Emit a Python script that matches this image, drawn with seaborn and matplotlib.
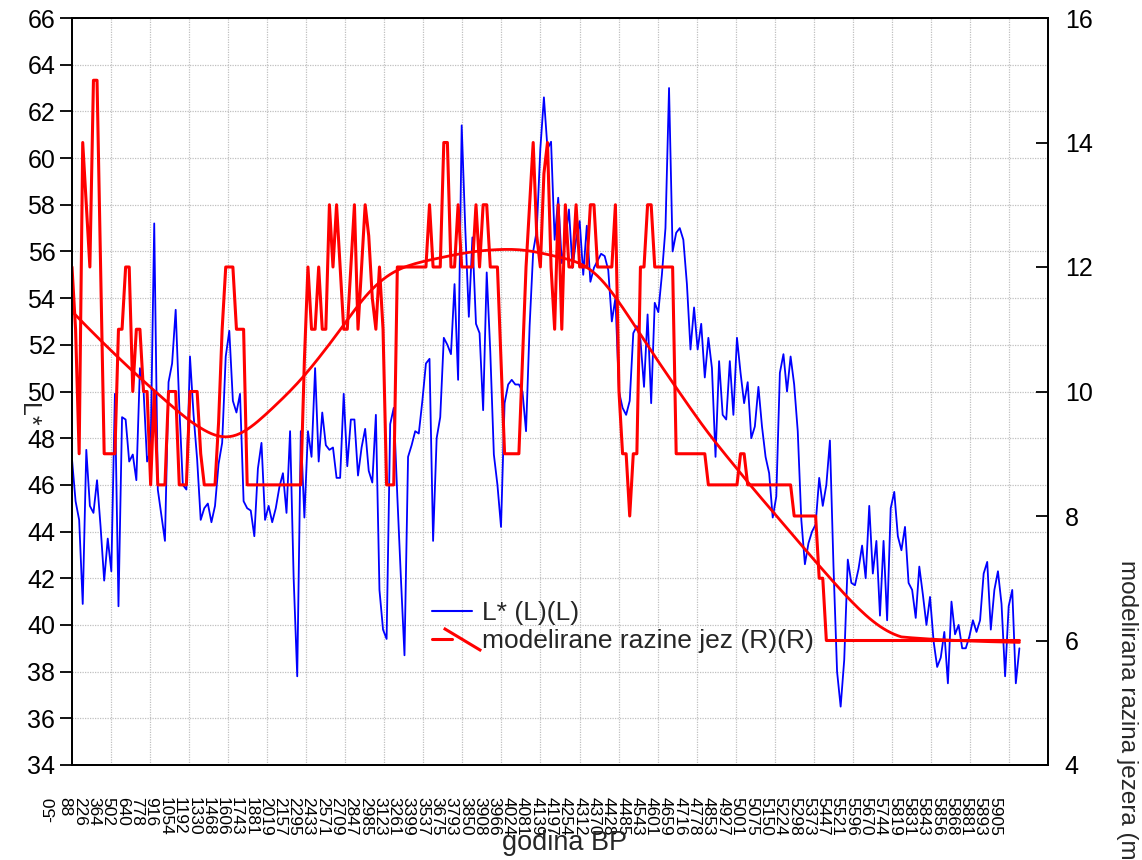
import numpy as np
import matplotlib
matplotlib.use("Agg")
import matplotlib.pyplot as plt
import matplotlib.transforms as mtransforms
from matplotlib.lines import Line2D
from matplotlib.path import Path
from matplotlib.legend_handler import HandlerTuple
import seaborn as sns

sns.set_theme(style="white")
plt.rcParams["font.family"] = ["Liberation Sans", "DejaVu Sans"]

# Age (years BP) shown for every fourth sample
age_labels = [
    "-50", "88", "226", "364", "502", "640", "778", "916", "1054", "1192",
    "1330", "1468", "1606", "1743", "1881", "2019", "2157", "2295", "2433", "2571",
    "2709", "2847", "2985", "3123", "3261", "3399", "3537", "3675", "3793", "3850",
    "3908", "3966", "4024", "4081", "4139", "4197", "4254", "4312", "4370", "4428",
    "4485", "4543", "4601", "4659", "4716", "4778", "4853", "4927", "5001", "5075",
    "5150", "5224", "5298", "5373", "5447", "5521", "5596", "5670", "5744", "5819",
    "5831", "5843", "5856", "5868", "5881", "5893", "5905",
]

# Sediment lightness L* per sample (left axis)
lightness = [
    47.1, 45.3, 44.5, 40.9, 47.5, 45.1, 44.8, 46.2, 44.2, 41.9,
    43.7, 42.3, 49.9, 40.8, 48.9, 48.8, 47.0, 47.3, 46.2, 51.0,
    50.1, 47.0, 47.5, 57.2, 45.8, 44.7, 43.6, 50.4, 51.2, 53.5,
    49.4, 46.0, 45.8, 51.5, 49.0, 47.1, 44.5, 45.0, 45.2, 44.4,
    45.1, 46.9, 47.8, 51.5, 52.6, 49.6, 49.1, 49.9, 45.3, 45.0,
    44.9, 43.8, 46.7, 47.8, 44.5, 45.1, 44.4, 45.0, 45.9, 46.5,
    44.8, 48.3, 42.0, 37.8, 48.3, 44.6, 48.3, 47.2, 51.0, 47.0,
    49.1, 47.7, 47.5, 47.6, 46.3, 46.3, 49.9, 46.8, 48.8, 48.8,
    46.4, 47.6, 48.4, 46.6, 46.1, 49.0, 41.5, 39.8, 39.4, 48.6,
    49.3, 45.5, 42.0, 38.7, 47.2, 47.7, 48.3, 48.2, 49.6, 51.2,
    51.4, 43.6, 48.0, 48.9, 52.3, 52.0, 51.6, 54.6, 50.5, 61.4,
    57.0, 53.2, 56.6, 52.9, 52.5, 49.2, 55.1, 51.7, 47.3, 46.0,
    44.2, 49.5, 50.3, 50.5, 50.3, 50.3, 50.0, 48.3, 52.8, 56.0,
    56.9, 60.4, 62.6, 60.4, 60.7, 56.5, 58.3, 55.5, 56.5, 57.8,
    55.3, 56.5, 57.3, 55.0, 57.1, 54.7, 55.3, 55.6, 55.9, 55.8,
    55.2, 53.0, 54.0, 50.0, 49.3, 49.0, 49.6, 52.5, 52.8, 52.2,
    50.2, 53.3, 49.5, 53.8, 53.4, 55.0, 57.0, 63.0, 56.0, 56.8,
    57.0, 56.5, 54.6, 51.8, 53.6, 51.8, 52.9, 50.6, 52.3, 51.0,
    47.2, 51.3, 49.0, 48.8, 51.3, 49.0, 52.3, 50.8, 49.5, 50.4,
    48.0, 48.5, 50.2, 48.5, 47.2, 46.5, 44.6, 45.5, 50.8, 51.6,
    50.0, 51.5, 50.3, 48.3, 44.5, 42.6, 43.5, 44.0, 44.3, 46.3,
    45.1, 46.0, 47.9, 42.5, 38.0, 36.5, 38.5, 42.8, 41.8, 41.7,
    42.4, 43.4, 42.0, 45.1, 42.2, 43.6, 40.4, 43.6, 40.2, 45.0,
    45.7, 43.8, 43.2, 44.2, 41.8, 41.5, 40.3, 42.5, 41.3, 40.0,
    41.2, 39.3, 38.2, 38.6, 39.7, 37.5, 41.0, 39.6, 40.0, 39.0,
    39.0, 39.5, 40.2, 39.7, 40.2, 42.2, 42.7, 39.8, 41.5, 42.3,
    40.9, 37.8, 40.8, 41.5, 37.5, 39.0,
]

# Modelled lake level in metres per sample (right axis)
lake_level = [
    12, 11, 9, 14, 13, 12, 15, 15, 12, 9,
    9, 9, 9, 11, 11, 12, 12, 10, 11, 11,
    10, 10, 8.5, 10, 8.5, 8.5, 8.5, 10, 10, 10,
    8.5, 8.5, 8.5, 10, 10, 10, 9, 8.5, 8.5, 8.5,
    8.5, 9.5, 11, 12, 12, 12, 11, 11, 11, 8.5,
    8.5, 8.5, 8.5, 8.5, 8.5, 8.5, 8.5, 8.5, 8.5, 8.5,
    8.5, 8.5, 8.5, 8.5, 8.5, 10.5, 12, 11, 11, 12,
    11, 11, 13, 12, 13, 12, 11, 11, 12, 13,
    11, 12, 13, 12.5, 11.5, 11, 12, 11, 8.5, 8.5,
    8.5, 12, 12, 12, 12, 12, 12, 12, 12, 12,
    13, 12, 12, 12, 14, 14, 12, 12, 13, 12,
    12, 12, 12, 13, 12, 13, 13, 12, 12, 12,
    10.5, 9, 9, 9, 9, 9, 10.5, 12, 13, 14,
    12.5, 12, 13.5, 14, 12, 11, 13, 11, 13, 12,
    12, 13, 12, 12, 12, 13, 13, 12, 12, 12,
    12, 12, 13, 10, 9, 9, 8, 9, 9, 12,
    12, 13, 13, 12, 12, 12, 12, 12, 12, 9,
    9, 9, 9, 9, 9, 9, 9, 9, 8.5, 8.5,
    8.5, 8.5, 8.5, 8.5, 8.5, 8.5, 8.5, 9, 9, 8.5,
    8.5, 8.5, 8.5, 8.5, 8.5, 8.5, 8.5, 8.5, 8.5, 8.5,
    8.5, 8.5, 8, 8, 8, 8, 8, 8, 8, 7,
    7, 6, 6, 6, 6, 6, 6, 6, 6, 6,
    6, 6, 6, 6, 6, 6, 6, 6, 6, 6,
    6, 6, 6, 6, 6, 6, 6, 6, 6, 6,
    6, 6, 6, 6, 6, 6, 6, 6, 6, 6,
    6, 6, 6, 6, 6, 6, 6, 6, 6, 6,
    6, 6, 6, 6, 6, 6,
]


def robust_lowess(values, frac, iters=3):
    """LOWESS: tricube-weighted local linear fit with bisquare robustness steps."""
    y = np.asarray(values, dtype=float)
    n = len(y)
    x = np.arange(n, dtype=float)
    k = int(np.ceil(frac * n))
    robust = np.ones(n)
    fit = np.empty(n)
    for _ in range(iters + 1):
        for i in range(n):
            d = np.abs(x - i)
            h = np.sort(d)[k - 1]
            w = np.clip(1 - (d / h) ** 3, 0, None) ** 3 * robust
            sw = np.sqrt(w)
            design = np.column_stack([np.ones(n), x - i]) * sw[:, None]
            fit[i] = np.linalg.lstsq(design, y * sw, rcond=None)[0][0]
        resid = y - fit
        s = np.median(np.abs(resid))
        if s == 0:
            s = np.mean(np.abs(resid)) + 1e-9
        u = resid / (6 * s)
        robust = np.clip(1 - u ** 2, 0, None) ** 2
    return fit


sample = np.arange(len(lightness))
level_fit = robust_lowess(lake_level, 0.25)

W, H = 1142, 860
fig = plt.figure(figsize=(W / 100, H / 100), dpi=100)
fig.patch.set_facecolor("white")
left, right, top, bottom = 72, 1048, 18, 765
ax = fig.add_axes([left / W, 1 - bottom / H, (right - left) / W, (bottom - top) / H])
ax.set_facecolor("white")

sns.lineplot(x=sample, y=lightness, ax=ax, color="#0000ff", linewidth=1.3,
             estimator=None, sort=False, legend=False)

ax2 = ax.twinx()
sns.lineplot(x=sample, y=lake_level, ax=ax2, color="#ff0000", linewidth=2.2,
             estimator=None, sort=False, legend=False)
sns.lineplot(x=sample, y=level_fit, ax=ax2, color="#ff0000", linewidth=2.0,
             estimator=None, sort=False, legend=False)

ax.set_xlim(0, 273)
ax.set_ylim(34, 66)
ax2.set_ylim(4, 16)

# Left axis
ax.set_yticks(np.arange(34, 67, 2))
ax.tick_params(axis="y", which="major", direction="out", length=9, width=1.3,
               pad=3, labelsize=18, colors="black")
# Right axis
ax2.set_yticks(np.arange(4, 17, 2))
ax2.tick_params(axis="y", which="major", direction="in", length=9, width=1.3,
                pad=12, labelsize=18, colors="black")

# Bottom axis: age labels every fourth sample, grid divisions as minor ticks
ax.set_xticks(sample[::4])
ax.set_xticklabels(age_labels)
ax.set_xticks(np.linspace(0, 273, 26), minor=True)
ax.tick_params(axis="x", which="major", length=0, pad=23, labelsize=12.5,
               labelrotation=-90, colors="black")
ax.tick_params(axis="x", which="minor", direction="in", length=6, width=1.3,
               color="black")
shift = mtransforms.ScaledTranslation(-21.3 / 100, 0, fig.dpi_scale_trans)
for i, lab in enumerate(ax.get_xticklabels()):
    lab.set_transform(lab.get_transform() + shift)
    if i == 0:
        lab.set_rotation(90)

ax.grid(which="major", axis="y", color="#c0c0c0", linestyle=(0, (1, 1)), linewidth=0.9)
ax.grid(which="minor", axis="x", color="#c0c0c0", linestyle=(0, (1, 1)), linewidth=0.9)
ax.grid(which="major", axis="x", visible=False)
ax2.grid(False)

for a in (ax, ax2):
    for sp in a.spines.values():
        sp.set_color("black")
        sp.set_linewidth(1.3)
        sp.set_visible(True)

ax.set_ylabel("")
ax2.set_ylabel("")
ax.set_xlabel("")

fig.text(28 / W, 1 - 415 / H, "L*", rotation=-90, ha="center", va="center", fontsize=18)
fig.text(1127 / W, 1 - 560 / H, "modelirana razina jezera (m)", rotation=-90,
         ha="center", va="top", fontsize=17.5)
fig.text(565 / W, 1 - 843 / H, "godina BP", ha="center", va="center", fontsize=19.5)

# Legend
blue_handle = Line2D([], [], color="#0000ff", linewidth=1.5)
red_flat = Line2D([], [], color="#ff0000", linewidth=2.2)
slash = Path([(-1.0, 0.6), (1.0, -0.6)], [Path.MOVETO, Path.LINETO])
red_slash = Line2D([], [], color="#ff0000", linestyle="none", marker=slash,
                   markersize=27, markeredgewidth=2.2, markeredgecolor="#ff0000",
                   fillstyle="none")
fig.legend([blue_handle, (red_flat, red_slash)],
           ["L* (L)(L)", "modelirane razine jez (R)(R)"],
           handler_map={tuple: HandlerTuple(ndivide=None, pad=0)},
           loc="center left", bbox_to_anchor=(432 / W, 1 - 627 / H),
           frameon=False, fontsize=19, handlelength=1.5, handletextpad=0.4,
           labelspacing=0.15, borderpad=0, borderaxespad=0)

fig.savefig("out.png", dpi=100, facecolor="white")
